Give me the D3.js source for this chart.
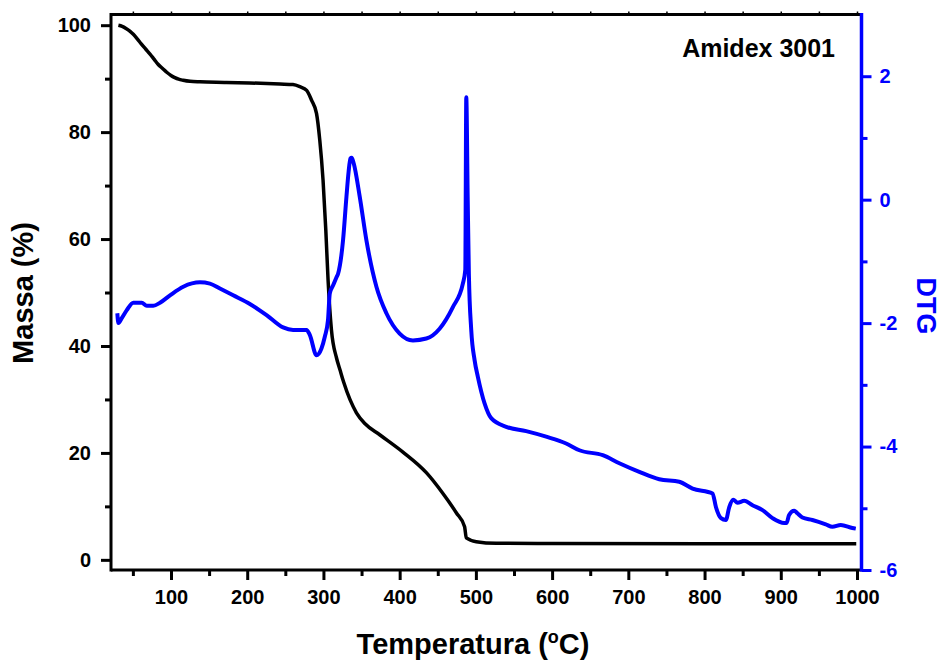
<!DOCTYPE html>
<html>
<head>
<meta charset="utf-8">
<title>Amidex 3001 TG / DTG</title>
<script src="https://d3js.org/d3.v7.min.js"></script>
<style>
body { margin: 0; padding: 0; background: #fff; font-family: Arial, "Liberation Sans", sans-serif; }
.tick text { font-weight: bold; }
</style>
</head>
<body>
<div id="chart"></div>
<script>

// TG curve (massa %)
var tgTemp = [31, 36, 41, 46, 50.6, 56, 61, 67, 72.5, 78, 83, 89, 94.4, 100, 105, 110, 116, 125, 138, 170, 203, 243, 260, 269, 278, 284.3, 290.9, 295.2, 299.5, 303.1, 306.1, 310.5, 317.1, 322, 326.6, 343.3, 355, 373.8, 403.9, 435, 456.3, 474.3, 485.2, 487.4, 500.5, 526.7, 600, 800, 999];
var tgMass = [100, 99.8, 99.4, 98.9, 98.3, 97.4, 96.5, 95.5, 94.6, 93.6, 92.7, 91.9, 91.2, 90.6, 90.2, 89.9, 89.7, 89.5, 89.4, 89.3, 89.2, 89.0, 88.9, 88.5, 87.8, 86.0, 83.5, 78.5, 71.0, 61.7, 52.3, 43.0, 37.8, 35.4, 33.2, 27.5, 25.4, 23.4, 20.2, 16.3, 12.5, 8.8, 6.2, 4.1, 3.4, 3.1, 3.05, 3.0, 3.0];

// DTG curve
var dtgTemp = [29.6, 31, 35.4, 42, 50.6, 61.6, 68.2, 76.8, 85.6, 98.7, 116.1, 138, 151.1, 164.2, 181.6, 203.5, 225.4, 247.1, 260.2, 277.8, 282.1, 290.9, 297.4, 301.8, 306, 308.3, 313, 317, 319.2, 325.7, 330.2, 333, 335.4, 337, 339.7, 347.6, 356.4, 369.5, 382.6, 400, 417.4, 435, 452.4, 469.8, 482.9, 486.1, 487.4, 489.3, 490.8, 493.9, 498.3, 502.6, 511.4, 520.1, 539.8, 566, 592.2, 618.4, 635.8, 666.4, 688.2, 714.4, 740.6, 766.8, 784.3, 810.5, 814.9, 821.5, 828, 832.4, 837.6, 843.2, 852, 862.9, 876, 889.1, 904.4, 907.4, 910.9, 917.5, 921.8, 928.4, 941.5, 959, 967.7, 978.7, 993.9, 998.4];
var dtgVals = [-1.84, -2.0, -1.92, -1.79, -1.67, -1.67, -1.72, -1.72, -1.67, -1.55, -1.41, -1.34, -1.36, -1.44, -1.55, -1.69, -1.87, -2.07, -2.11, -2.11, -2.19, -2.52, -2.41, -2.22, -1.95, -1.52, -1.38, -1.26, -1.2, -0.66, 0.05, 0.45, 0.67, 0.68, 0.59, 0.05, -0.66, -1.41, -1.84, -2.17, -2.28, -2.25, -2.09, -1.74, -1.36, -1.14, 1.66, -0.01, -1.2, -2.11, -2.6, -2.87, -3.3, -3.54, -3.68, -3.75, -3.84, -3.95, -4.06, -4.14, -4.27, -4.41, -4.53, -4.57, -4.68, -4.76, -4.98, -5.16, -5.19, -4.98, -4.86, -4.91, -4.88, -4.95, -5.03, -5.16, -5.24, -5.24, -5.11, -5.04, -5.08, -5.15, -5.19, -5.26, -5.3, -5.27, -5.32, -5.33];

// ticks
var xMajor = [100, 200, 300, 400, 500, 600, 700, 800, 900, 1000];
var xMinor = [50, 150, 250, 350, 450, 550, 650, 750, 850, 950];
var yMajor = [0, 20, 40, 60, 80, 100];
var yMinor = [10, 30, 50, 70, 90];
var y2Major = [-6, -4, -2, 0, 2];
var y2Minor = [-5, -3, -1, 1];

var W = 940, H = 662;
var pLeft = 111, pRight = 861.5, pTop = 14.5, pBottom = 570;

var svg = d3.select('#chart').append('svg')
    .attr('width', W)
    .attr('height', H)
    .style('display', 'block');

var x = d3.scaleLinear().domain([21.3, 1005.9]).range([pLeft, pRight]);
var y = d3.scaleLinear().domain([-1.9, 102]).range([pBottom, pTop]);
var y2 = d3.scaleLinear().domain([-6, 3]).range([pBottom, pTop]);

var tickFont = 20;
// plain hyphen for negatives, like the original
var fmt = function(d) { return String(d) };

// minor ticks, no labels
function minorAxis(axis, g, col, len) {
  g.call(axis.tickSize(len || 6).tickFormat(''))
  g.select('.domain').remove()
  g.selectAll('line').attr('stroke', col).attr('stroke-width', 3)
}
function majorAxis(axis, g, col) {
  g.call(axis.tickSize(10).tickPadding(4).tickFormat(fmt))
  g.select('.domain').remove()
  g.selectAll('line').attr('stroke', col).attr('stroke-width', 3)
  g.selectAll('text')
    .attr('fill', col)
    .attr('font-size', tickFont)
}

var gx = svg.append('g').attr('transform', 'translate(0,' + pBottom + ')');
minorAxis(d3.axisBottom(x).tickValues(xMinor), gx.append('g'), '#000');
majorAxis(d3.axisBottom(x).tickValues(xMajor), gx.append('g'), '#000');
gx.selectAll('text').attr('dy', '1.0em');

// top axis: only tiny nubs
var gt = svg.append('g').attr('transform', 'translate(0,' + pTop + ')');
minorAxis(d3.axisTop(x).tickValues(xMajor.concat(xMinor)), gt, '#000', 3);
gt.selectAll('line').attr('stroke-width', 1.5);

var gy = svg.append('g').attr('transform', 'translate(' + pLeft + ',0)');
minorAxis(d3.axisLeft(y).tickValues(yMinor), gy.append('g'), '#000');
majorAxis(d3.axisLeft(y).tickValues(yMajor), gy.append('g'), '#000');
gy.selectAll('text').attr('dx', '-0.3em');

var gy2 = svg.append('g').attr('transform', 'translate(' + pRight + ',0)');
minorAxis(d3.axisRight(y2).tickValues(y2Minor), gy2.append('g'), '#0000ff');
majorAxis(d3.axisRight(y2).tickValues(y2Major), gy2.append('g'), '#0000ff');
gy2.selectAll('text').attr('dx', '0.2em');

// frame lines
svg.append('line').attr('x1', pLeft).attr('x2', pRight).attr('y1', pTop).attr('y2', pTop)
  .attr('stroke', '#000').attr('stroke-width', 3);
svg.append('line').attr('x1', pLeft).attr('x2', pRight).attr('y1', pBottom).attr('y2', pBottom)
  .attr('stroke', '#000').attr('stroke-width', 3);
svg.append('line').attr('x1', pLeft).attr('x2', pLeft).attr('y1', pTop - 1.5).attr('y2', pBottom + 1.5)
  .attr('stroke', '#000').attr('stroke-width', 3);

// curves
var tgData = tgTemp.map(function(t, i) { return [t, tgMass[i]] });
var dtgData = dtgTemp.map(function(t, i) { return [t, dtgVals[i]] });

svg.append('path')
  .datum(tgData)
  .attr('fill', 'none')
  .attr('stroke', '#000')
  .attr('stroke-width', 3.5)
  .attr('stroke-linejoin', 'round')
  .attr('d', d3.line().curve(d3.curveMonotoneX)
    .x(function(d) { return x(d[0]) })
    .y(function(d) { return y(d[1]) }));

svg.append('path')
  .datum(dtgData)
  .attr('fill', 'none')
  .attr('stroke', '#0000ff')
  .attr('stroke-width', 4)
  .attr('stroke-linejoin', 'round')
  .attr('d', d3.line().curve(d3.curveMonotoneX)
    .x(function(d) { return x(d[0]) })
    .y(function(d) { return y2(d[1]) }));

// right axis drawn over the curves
svg.append('line').attr('x1', pRight).attr('x2', pRight).attr('y1', pTop - 1.5).attr('y2', pBottom + 1.5)
  .attr('stroke', '#0000ff').attr('stroke-width', 3.5);

// titles
svg.append('text')
  .attr('x', 835).attr('y', 57)
  .attr('text-anchor', 'end')
  .attr('font-size', 25).attr('font-weight', 'bold')
  .text('Amidex 3001');

svg.append('text')
  .attr('transform', 'translate(33,293) rotate(-90)')
  .attr('text-anchor', 'middle')
  .attr('font-size', 29).attr('font-weight', 'bold')
  .text('Massa (%)');

var xt = svg.append('text')
  .attr('x', 473).attr('y', 654)
  .attr('text-anchor', 'middle')
  .attr('font-size', 29).attr('font-weight', 'bold');
xt.append('tspan').text('Temperatura (');
xt.append('tspan').attr('font-size', 18).attr('dy', -11).text('o');
xt.append('tspan').attr('dy', 11).text('C)');

svg.append('text')
  .attr('transform', 'translate(917,306) rotate(90)')
  .attr('text-anchor', 'middle')
  .attr('fill', '#0000ff')
  .attr('font-size', 27).attr('font-weight', 'bold')
  .text('DTG');

d3.selectAll('text').attr('font-family', 'Arial, "Liberation Sans", sans-serif');

</script>
</body>
</html>
